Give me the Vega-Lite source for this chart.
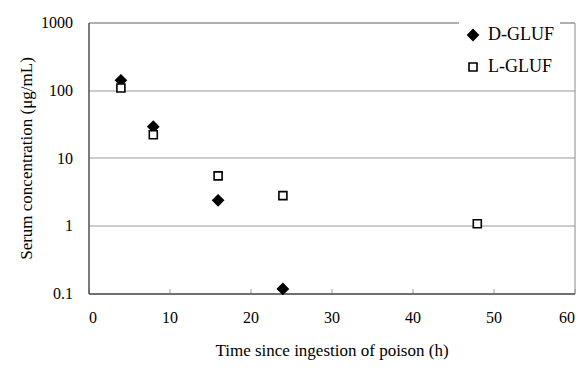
{
  "$schema": "https://vega.github.io/schema/vega-lite/v6.json",
  "width": 486,
  "height": 271,
  "autosize": {"type": "none"},
  "padding": {"left": 88.5, "top": 22.5, "right": 9.5, "bottom": 78.5},
  "background": "white",
  "config": {
    "font": "Liberation Serif",
    "view": {"stroke": "#8a8a8a", "strokeWidth": 1}
  },
  "data": {
    "values": [
      {"time": 4, "conc": 140, "series": "D-GLUF"},
      {"time": 8, "conc": 29, "series": "D-GLUF"},
      {"time": 16, "conc": 2.37, "series": "D-GLUF"},
      {"time": 24, "conc": 0.117, "series": "D-GLUF"},
      {"time": 4, "conc": 108, "series": "L-GLUF"},
      {"time": 8, "conc": 22, "series": "L-GLUF"},
      {"time": 16, "conc": 5.45, "series": "L-GLUF"},
      {"time": 24, "conc": 2.78, "series": "L-GLUF"},
      {"time": 48, "conc": 1.07, "series": "L-GLUF"}
    ]
  },
  "mark": {"type": "point", "stroke": "black", "strokeWidth": 1.6, "opacity": 1, "strokeOpacity": 1, "fillOpacity": 1},
  "encoding": {
    "x": {
      "field": "time",
      "type": "quantitative",
      "scale": {"domain": [0, 60], "nice": false, "zero": false},
      "axis": {
        "title": "Time since ingestion of poison (h)",
        "values": [0, 10, 20, 30, 40, 50, 60],
        "grid": false,
        "domainColor": "#333",
        "tickColor": "#999",
        "tickSize": -5,
        "labelPadding": 21,
        "labelFontSize": 16,
        "labelColor": "black",
        "titleFontSize": 17,
        "titleFontWeight": "normal",
        "titleColor": "black",
        "titlePadding": 17
      }
    },
    "y": {
      "field": "conc",
      "type": "quantitative",
      "scale": {"type": "log", "domain": [0.1, 1000], "nice": false},
      "axis": {
        "title": "Serum concentration (μg/mL)",
        "values": [0.1, 1, 10, 100, 1000],
        "format": "~g",
        "grid": true,
        "gridColor": "#999",
        "ticks": false,
        "domainColor": "#333",
        "labelPadding": 16,
        "labelFontSize": 16,
        "labelColor": "black",
        "titleFontSize": 17,
        "titleFontWeight": "normal",
        "titleColor": "black",
        "titlePadding": 5
      }
    },
    "shape": {
      "field": "series",
      "type": "nominal",
      "scale": {"domain": ["D-GLUF", "L-GLUF"], "range": ["diamond", "square"]},
      "legend": {
        "title": null,
        "orient": "none",
        "legendX": 370.5,
        "legendY": -1.5,
        "fillColor": "white",
        "strokeColor": "white",
        "padding": 5,
        "rowPadding": 14,
        "labelFontSize": 18,
        "labelColor": "black",
        "labelOffset": 6,
        "symbolStrokeColor": "black",
        "symbolStrokeWidth": 1.6
      }
    },
    "fill": {
      "field": "series",
      "type": "nominal",
      "scale": {"domain": ["D-GLUF", "L-GLUF"], "range": ["black", "white"]}
    },
    "size": {
      "field": "series",
      "type": "nominal",
      "scale": {"domain": ["D-GLUF", "L-GLUF"], "range": [110, 64]}
    }
  }
}
